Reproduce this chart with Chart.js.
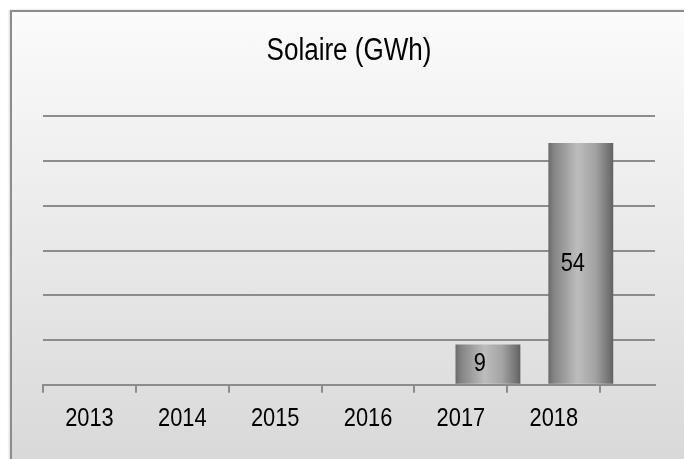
<!DOCTYPE html>
<html><head><meta charset="utf-8">
<script src="https://cdn.jsdelivr.net/npm/chart.js@4"></script>
<style>
html,body{margin:0;padding:0;background:#fff;width:684px;height:459px;overflow:hidden;}
#frame{position:absolute;left:10px;top:10px;width:700px;height:470px;border:2px solid #8c8c8c;
  background:linear-gradient(to bottom,#fbfbfb 0%,#d7d7d7 100%);box-shadow:-1px 0 2px rgba(0,0,0,0.15);}
#wrap{position:absolute;left:0;top:0;width:684px;height:459px;}
</style></head><body>
<div id="frame"></div>
<div id="wrap"><canvas id="c" width="684" height="459"></canvas></div>
<script>
const years = [2013, 2014, 2015, 2016, 2017, 2018];
const solaire = [null, null, null, null, 9, 54];
const emptySeries = [null, null, null, null, null, null];
const chartTitle = 'Solaire (GWh)';
const yTicks = [0, 10, 20, 30, 40, 50, 60];

const FONT = "'Liberation Sans', Arial, sans-serif";
const GRID = '#8c8c8c';
const NARROW = 0.84; // condensed (Arial Narrow-like) text

const canvas = document.getElementById('c');
const context = canvas.getContext('2d');
const origFillText = context.fillText;
context.fillText = function (text, x, y, maxWidth) {
  this.save();
  this.translate(x, y);
  this.scale(NARROW, 1);
  if (maxWidth === undefined) origFillText.call(this, text, 0, 0);
  else origFillText.call(this, text, 0, 0, maxWidth / NARROW);
  this.restore();
};

function barFill(ctx) {
  const chart = ctx.chart;
  const meta = chart.getDatasetMeta(ctx.datasetIndex);
  const bar = meta.data[ctx.dataIndex];
  if (!bar || !isFinite(bar.x) || !isFinite(bar.width)) return '#9a9a9a';
  const l = bar.x - bar.width / 2, r = bar.x + bar.width / 2;
  const g = chart.ctx.createLinearGradient(l, 0, r, 0);
  g.addColorStop(0, '#6a6a6a');
  g.addColorStop(0.08, '#838383');
  g.addColorStop(0.45, '#bdbdbd');
  g.addColorStop(0.72, '#a3a3a3');
  g.addColorStop(0.93, '#747474');
  g.addColorStop(1, '#606060');
  return g;
}

const valueLabels = {
  id: 'valueLabels',
  afterDatasetsDraw(chart) {
    const meta = chart.getDatasetMeta(1);
    const c = chart.ctx;
    c.save();
    c.font = '26px ' + FONT;
    c.fillStyle = '#000';
    c.textAlign = 'center';
    c.textBaseline = 'middle';
    meta.data.forEach((bar, i) => {
      const v = solaire[i];
      if (v == null) return;
      c.fillText(String(v), bar.x - 8, (bar.y + bar.base) / 2);
    });
    c.restore();
  }
};

const chart = new Chart(context, {
  type: 'bar',
  data: {
    labels: years,
    datasets: [
      { label: '', data: emptySeries, backgroundColor: barFill },
      { label: 'Solaire', data: solaire, backgroundColor: barFill }
    ]
  },
  options: {
    responsive: false,
    animation: false,
    devicePixelRatio: 1,
    categoryPercentage: 1.164,
    barPercentage: 1.2,
    layout: { padding: { left: 43, right: 29, top: 0, bottom: 15 } },
    plugins: {
      legend: { display: false },
      tooltip: { enabled: false },
      title: {
        display: true,
        text: chartTitle,
        color: '#000',
        font: { family: FONT, size: 31, weight: 'normal', lineHeight: 1.2 },
        padding: { top: 33, bottom: 46 }
      }
    },
    scales: {
      x: {
        type: 'linear',
        offset: false,
        min: years[0] - 0.5,
        max: years[years.length - 1] + 1.09,
        afterBuildTicks(axis) { axis.ticks = years.map(v => ({ value: v })); },
        ticks: {
          autoSkip: false,
          maxRotation: 0,
          padding: 10,
          color: '#000',
          font: { family: FONT, size: 26 },
          callback: (v) => String(v)
        },
        grid: { display: true, offset: true, drawOnChartArea: false, drawTicks: true, tickLength: 8, color: GRID, lineWidth: 2 },
        border: { display: true, color: GRID, width: 2 }
      },
      y: {
        min: yTicks[0],
        max: yTicks[yTicks.length - 1],
        afterBuildTicks(axis) { axis.ticks = yTicks.map(v => ({ value: v })); },
        ticks: { display: false },
        grid: { color: GRID, lineWidth: 2, drawTicks: false },
        border: { display: false }
      }
    }
  },
  plugins: [valueLabels]
});
chart.update();
</script>
</body></html>
